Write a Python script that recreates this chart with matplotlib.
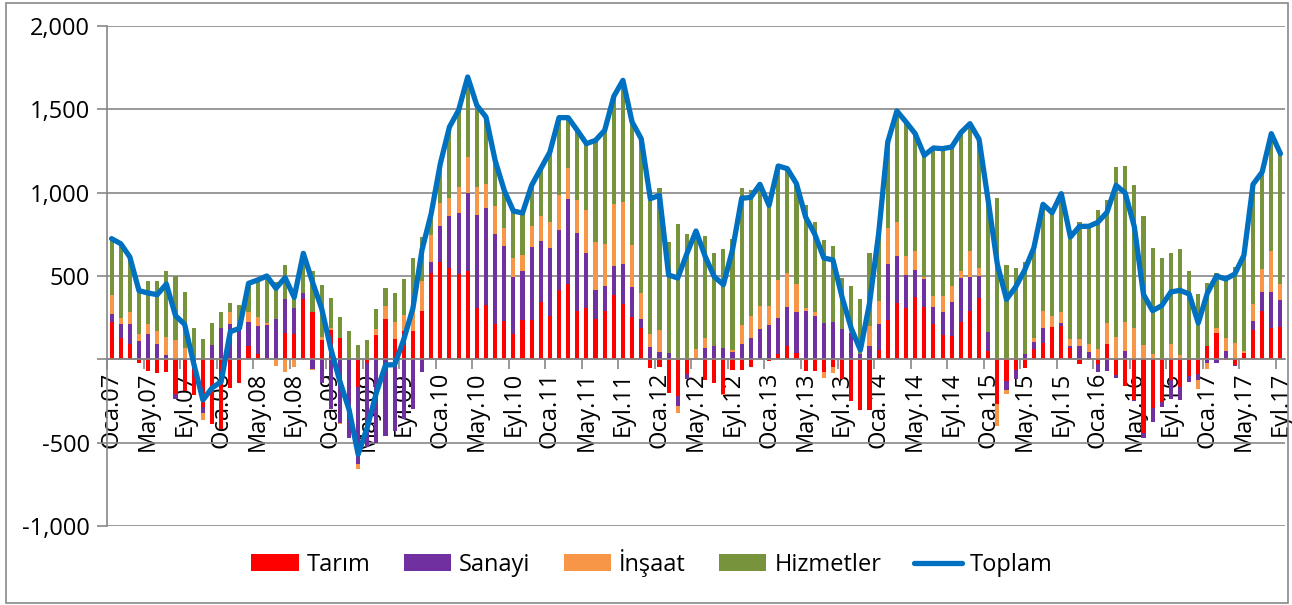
import numpy as np
import matplotlib.pyplot as plt
from matplotlib.patches import Patch, Rectangle
from matplotlib.lines import Line2D
from matplotlib.ticker import FuncFormatter

plt.rcParams['font.family'] = ['Open Sans', 'DejaVu Sans']

# tick labels, one every 4 months (Oca.07 ... Eyl.17)
tick_labels = ["Oca.07", "May.07", "Eyl.07", "Oca.08", "May.08", "Eyl.08",
               "Oca.09", "May.09", "Eyl.09", "Oca.10", "May.10", "Eyl.10",
               "Oca.11", "May.11", "Eyl.11", "Oca.12", "May.12", "Eyl.12",
               "Oca.13", "May.13", "Eyl.13", "Oca.14", "May.14", "Eyl.14",
               "Oca.15", "May.15", "Eyl.15", "Oca.16", "May.16", "Eyl.16",
               "Oca.17", "May.17", "Eyl.17"]

# monthly values, Jan 2007 - Sep 2017 (thousand persons)
tarim = [224, 128, 90, -22, -70, -82, -78, -206, -192, -212,
         -284, -388, -420, -170, -140, 82, 30, 0, 0, 160,
         150, 360, 284, 118, 176, 130, 0, -165, -24, 146,
         244, 120, 170, 170, 288, 518, 584, 550, 514, 530,
         310, 324, 214, 228, 154, 234, 238, 342, 262, 418,
         454, 290, 310, 240, 290, 388, 334, 254, 190, -52,
         -46, -200, -222, -90, 0, -122, -142, -206, -66, -62,
         -46, 0, -10, 34, 80, 38, -70, -70, -76, -46,
         -116, -252, -306, -302, 54, 238, 336, 310, 374, 314,
         214, 144, 138, 226, 290, 366, 50, -270, -130, -66,
         -50, 60, 100, 196, 198, 68, -26, -6, -26, 90,
         -96, -160, -246, -440, -290, -256, -122, -166, -102, -90,
         80, 158, -6, -32, 38, 178, 290, 190, 194]
sanayi = [50, 86, 120, 108, 154, 94, 24, -30, 0, 0,
          -36, 86, 186, 212, 212, 140, 170, 206, 240, 202,
          156, 40, -56, -142, -300, -380, -470, -460, -500, -500,
          -460, -430, -360, -300, -76, 66, 218, 308, 364, 470,
          554, 584, 540, 452, 340, 296, 436, 366, 404, 360,
          510, 468, 328, 178, 150, 172, 240, 180, 52, 74,
          44, 38, -60, -26, 0, 70, 78, 70, 42, 90,
          130, 180, 208, 214, 234, 246, 288, 260, 218, 224,
          180, 160, 30, 78, 160, 336, 284, 194, 160, 170,
          100, 140, 206, 260, 206, 134, 116, 0, -56, -50,
          34, 46, 90, 0, 20, 12, 78, 44, -50, -72,
          -14, 50, -6, -30, -86, -30, -114, -80, -34, -36,
          -20, -20, 48, -10, 0, 52, 114, 214, 160]
insaat = [114, 36, 72, 46, 56, 74, 110, 114, 66, 0,
          -44, 0, 0, 70, 0, 60, 56, 10, -40, -74,
          -44, 0, -10, 16, 14, -8, 0, -30, 0, 34,
          76, 104, 96, 120, 180, 164, 136, 112, 156, 214,
          170, 142, 164, 110, 114, 94, 126, 150, 158, 210,
          184, 196, 256, 286, 250, 374, 370, 254, 156, 80,
          130, 0, -40, 0, 60, 60, 4, -10, 12, 118,
          132, 142, 114, 226, 206, 166, 18, 22, -34, -36,
          0, 10, 0, 122, 136, 216, 202, 114, 114, 10,
          64, 98, 94, 44, 154, 46, 0, -130, -20, 0,
          0, 20, 100, 64, 68, 44, 46, 50, 64, 128,
          134, 174, 186, 84, 30, 0, 90, 24, 0, -50,
          -40, 32, 82, 98, 10, 104, 140, 246, 100]
hizmetler = [336, 444, 332, 280, 258, 302, 396, 384, 336, 186,
             120, 130, 100, 54, 114, 174, 220, 284, 226, 202,
             110, 236, 246, 314, 176, 126, 170, 85, 116, 120,
             106, 174, 214, 316, 266, 126, 236, 424, 460, 480,
             490, 404, 276, 224, 282, 254, 244, 286, 420, 462,
             302, 420, 400, 610, 684, 644, 730, 736, 926, 862,
             856, 668, 810, 750, 710, 610, 556, 594, 670, 820,
             756, 728, 612, 686, 624, 604, 618, 540, 500, 454,
             308, 268, 332, 438, 404, 514, 668, 806, 706, 730,
             890, 882, 836, 830, 764, 774, 784, 970, 566, 550,
             552, 544, 640, 620, 708, 610, 700, 710, 834, 736,
             1020, 934, 862, 776, 638, 608, 550, 636, 528, 394,
             378, 330, 358, 456, 576, 716, 580, 704, 780]

series = [("Tarım", tarim, "#FF0000"),
          ("Sanayi", sanayi, "#7030A0"),
          ("İnşaat", insaat, "#F79646"),
          ("Hizmetler", hizmetler, "#77933C")]

n = len(tarim)
x = np.arange(n)
grid_color = "#878787"

fig = plt.figure(figsize=(12.92, 6.05), dpi=100)
ax = fig.add_axes([107 / 1292, 79 / 605, 1178 / 1292, 500 / 605])

# stacked columns: positives stack up from 0, negatives stack down from 0
pos_base = np.zeros(n)
neg_base = np.zeros(n)
for name, vals, color in series:
    v = np.array(vals, dtype=float)
    bottom = np.where(v >= 0, pos_base, neg_base)
    ax.bar(x, v, width=0.45, bottom=bottom, color=color, zorder=2)
    pos_base += np.clip(v, 0, None)
    neg_base += np.clip(v, None, 0)

toplam = np.array(tarim) + np.array(sanayi) + np.array(insaat) + np.array(hizmetler)
ax.plot(x, toplam, color="#0070C0", lw=3.8, solid_joinstyle="round",
        solid_capstyle="round", zorder=3)

ax.set_xlim(-0.5, n - 0.5)
ax.set_ylim(-1000, 2000)
ax.set_yticks(np.arange(-1000, 2001, 500))
ax.yaxis.set_major_formatter(FuncFormatter(lambda v, p: "" if v == 0 else f"{v:,.0f}"))
ax.yaxis.grid(True, color=grid_color, lw=1.2)
ax.set_axisbelow(True)

for s in ["top", "right"]:
    ax.spines[s].set_visible(False)
ax.spines["left"].set_color(grid_color)
ax.spines["left"].set_linewidth(1.2)
ax.spines["bottom"].set_position(("data", 0))
ax.spines["bottom"].set_color(grid_color)
ax.spines["bottom"].set_linewidth(1.2)

ax.set_xticks(x[::4])
ax.set_xticklabels(tick_labels, rotation=90, fontsize=17)
ax.set_xticks(x[::4] - 0.5, minor=True)
ax.tick_params(axis="x", which="major", length=0, pad=9)
ax.tick_params(axis="x", which="minor", length=7, color=grid_color, width=1.2)
ax.tick_params(axis="y", length=7, color=grid_color, width=1.2, labelsize=17, pad=5)

handles = [Patch(facecolor=c, label=nm) for nm, _, c in series]
handles.append(Line2D([0], [0], color="#0070C0", lw=3.8, solid_capstyle="round", label="Toplam"))
fig.legend(handles=handles, loc="center", bbox_to_anchor=(652 / 1292, 1 - 563 / 605),
           ncol=5, frameon=False, fontsize=17, handlelength=2.0, handleheight=0.75,
           handletextpad=0.35, columnspacing=1.4)

fig.add_artist(Rectangle((6 / 1292, 2 / 605), 1282 / 1292, 600 / 605,
                         transform=fig.transFigure, fill=False,
                         edgecolor="#898989", lw=1.2))

fig.savefig("out.png", dpi=100)
